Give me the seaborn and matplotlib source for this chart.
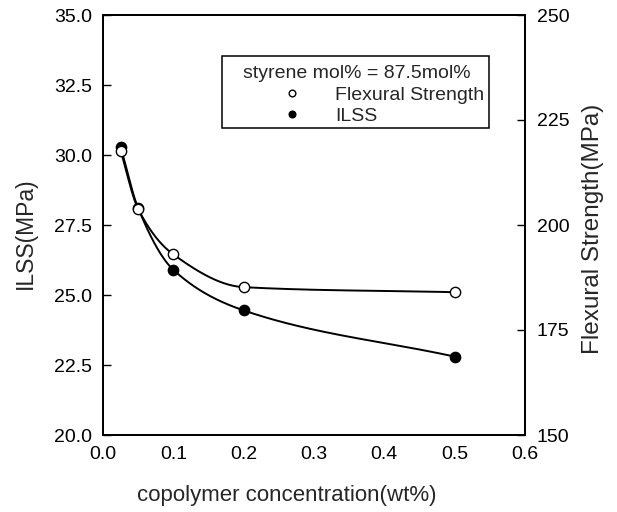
import numpy as np
import pandas as pd
import matplotlib
matplotlib.use("Agg")
import matplotlib.pyplot as plt
import seaborn as sns
from matplotlib.lines import Line2D
from matplotlib.patches import Rectangle

sns.set_style("white")
plt.rcParams['font.family'] = ['Liberation Sans', 'DejaVu Sans']

conc = [0.025, 0.05, 0.1, 0.2, 0.5]
ilss = [30.3, 28.1, 25.9, 24.45, 22.8]
flexural = [217.7, 203.8, 193.0, 185.2, 184.0]

x_ticks = [0.0, 0.1, 0.2, 0.3, 0.4, 0.5, 0.6]
left_ticks = [20.0, 22.5, 25.0, 27.5, 30.0, 32.5, 35.0]
right_ticks = [150, 175, 200, 225, 250]


def smooth(x, y, xn):
    """Monotone cubic Hermite curve through the points (for the drawn line)."""
    x = np.asarray(x, float); y = np.asarray(y, float)
    h = np.diff(x); d = np.diff(y) / h
    n = len(x); m = np.zeros(n)
    for k in range(1, n - 1):
        if d[k - 1] * d[k] > 0:
            w1 = 2 * h[k] + h[k - 1]; w2 = h[k] + 2 * h[k - 1]
            m[k] = (w1 + w2) / (w1 / d[k - 1] + w2 / d[k])
    m[0] = d[0]
    m[-1] = d[-1]
    out = np.empty_like(xn)
    for i, xv in enumerate(xn):
        k = min(max(np.searchsorted(x, xv) - 1, 0), n - 2)
        t = (xv - x[k]) / h[k]
        h00 = 2 * t**3 - 3 * t**2 + 1; h10 = t**3 - 2 * t**2 + t
        h01 = -2 * t**3 + 3 * t**2; h11 = t**3 - t**2
        out[i] = h00 * y[k] + h10 * h[k] * m[k] + h01 * y[k + 1] + h11 * h[k] * m[k + 1]
    return out


W, H = 617, 512
fig = plt.figure(figsize=(W / 100, H / 100), dpi=100)
L, R, T, B = 103, 525, 15, 435
ax = fig.add_axes([L / W, 1 - B / H, (R - L) / W, (B - T) / H])
ax2 = ax.twinx()

xs = np.linspace(conc[0], conc[-1], 400)
ax.plot(xs, smooth(conc, ilss, xs), color='black', lw=1.4, zorder=2)
ax2.plot(xs, smooth(conc, flexural, xs), color='black', lw=1.4, zorder=2)

df1 = pd.DataFrame({'x': conc, 'y': ilss})
df2 = pd.DataFrame({'x': conc, 'y': flexural})
sns.scatterplot(data=df1, x='x', y='y', ax=ax, color='black', edgecolor='black',
                s=55, linewidth=1, zorder=3)
sns.scatterplot(data=df2, x='x', y='y', ax=ax2, color='white', edgecolor='black',
                s=55, linewidth=1, zorder=3)

ax.set_xlim(0, 0.6)
ax.set_ylim(20, 35)
ax2.set_ylim(150, 250)
ax.set_xticks(x_ticks)
ax.set_xticklabels([f"{v:.1f}" for v in x_ticks])
ax.set_yticks(left_ticks)
ax.set_yticklabels([f"{v:.1f}" for v in left_ticks])
ax2.set_yticks(right_ticks)
ax2.set_yticklabels([str(v) for v in right_ticks])

for a in (ax, ax2):
    for s in a.spines.values():
        s.set_color('black'); s.set_linewidth(1.3)
ax.tick_params(axis='y', direction='in', length=5.5, width=1, labelsize=14,
               colors='black', pad=8)
ax.tick_params(axis='x', direction='in', length=5.5, width=1, labelsize=14,
               colors='black', pad=8)
ax2.tick_params(axis='y', direction='in', length=5.5, width=1, labelsize=14,
                colors='black', pad=8.5)

ax.set_xlabel('copolymer concentration(wt%)', fontsize=16)
ax.set_ylabel('ILSS(MPa)', fontsize=16.5)
ax2.set_ylabel('Flexural Strength(MPa)', fontsize=17.5)
ax.xaxis.set_label_coords((287 - L) / (R - L), -(485 - B) / (B - T))
ax.yaxis.set_label_coords((37 - L) / (R - L), (B - 233) / (B - T))
ax2.yaxis.set_label_coords((582 - L) / (R - L), (B - 229) / (B - T))

handles = [Line2D([], [], marker='o', ls='none', mfc='white', mec='black', ms=4.8, mew=1),
           Line2D([], [], marker='o', ls='none', mfc='black', mec='black', ms=4.8, mew=1)]
leg = ax.legend(handles, ['Flexural Strength', 'ILSS'], title='styrene mol% = 87.5mol%',
                loc='upper left', bbox_to_anchor=(243 / W, 1 - 65 / H),
                bbox_transform=fig.transFigure, fontsize=14, title_fontsize=14,
                frameon=False, borderpad=0, borderaxespad=0, handletextpad=-0.31,
                labelspacing=0.2, handlelength=5.05, alignment='left')
fig.add_artist(Rectangle((222 / W, 1 - 128 / H), (489 - 222) / W, (128 - 56) / H,
                         transform=fig.transFigure, fill=False, edgecolor='black',
                         linewidth=1.1, zorder=5))

fig.savefig('out.png', dpi=100)
